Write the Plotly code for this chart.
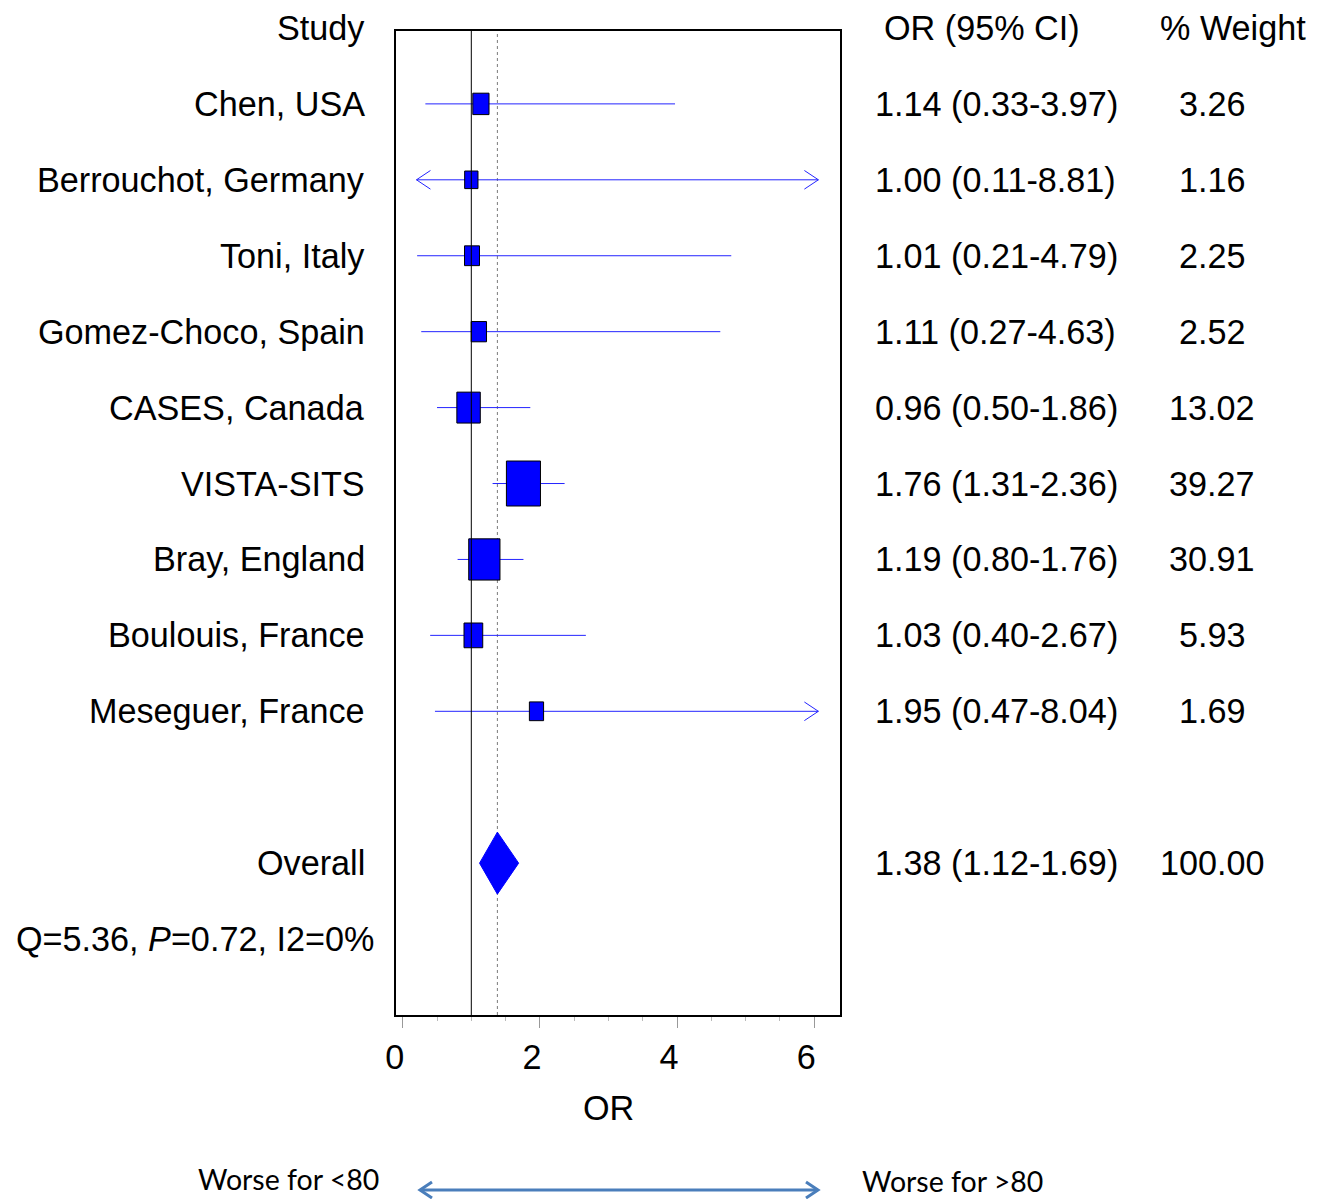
import numpy as np
import plotly.graph_objects as go

# ---------------- data ----------------
studies = ["Chen, USA", "Berrouchot, Germany", "Toni, Italy", "Gomez-Choco, Spain",
           "CASES, Canada", "VISTA-SITS", "Bray, England", "Boulouis, France",
           "Meseguer, France"]
or_vals = [1.14, 1.00, 1.01, 1.11, 0.96, 1.76, 1.19, 1.03, 1.95]
ci_lo = [0.33, 0.11, 0.21, 0.27, 0.50, 1.31, 0.80, 0.40, 0.47]
ci_hi = [3.97, 8.81, 4.79, 4.63, 1.86, 2.36, 1.76, 2.67, 8.04]
weights = [3.26, 1.16, 2.25, 2.52, 13.02, 39.27, 30.91, 5.93, 1.69]
overall_or, overall_lo, overall_hi, overall_w = 1.38, 1.12, 1.69, 100.00
het_text = "Q=5.36, <i>P</i>=0.72, I2=0%"
x_ticks = [0, 2, 4, 6]

# ---------------- geometry ----------------
OFF = 8                      # page body margin
W, H = 1320 - OFF, 1199 - OFF
def X(px):
    return (px - OFF) / W
def Y(py):
    return 1 - (py - OFF) / H

PX_L, PX_R, PX_T, PX_B = 396, 840, 31, 1015
XR = [-0.098, 6.375]
YR = [13.0, 0.04]
CLIP_LO, CLIP_HI = 0.2, 6.06
ppx = (PX_R - PX_L) / (XR[1] - XR[0])      # px per x unit
ppy = (PX_B - PX_T) / (YR[0] - YR[1])      # px per y unit

FONT = "Liberation Sans, Arial, sans-serif"
FS = 34.2
BLUE = "#0000ff"
LINEBLUE = "#2424ff"

rows = [i + 1 for i in range(len(studies))]
y_overall = len(studies) + 2
y_het = len(studies) + 3

fig = go.Figure()
shapes = []
annotations = []

# dotted line at overall OR (below)
shapes.append(dict(type="line", xref="x", yref="y", x0=overall_or, x1=overall_or,
                   y0=YR[0], y1=YR[1], line=dict(color="#7a7a7a", width=1, dash="dot"),
                   layer="below"))

# CI lines with arrows when clipped
for y, o, lo, hi in zip(rows, or_vals, ci_lo, ci_hi):
    x0 = max(lo, CLIP_LO)
    x1 = min(hi, CLIP_HI)
    fig.add_trace(go.Scatter(x=[x0, x1], y=[y, y], mode="lines",
                             line=dict(color=LINEBLUE, width=1), hoverinfo="skip",
                             showlegend=False))
    dx = 14 / ppx
    dy = 9.3 / ppy
    if hi > CLIP_HI:
        fig.add_trace(go.Scatter(x=[x1 - dx, x1, x1 - dx], y=[y - dy, y, y + dy],
                                 mode="lines", line=dict(color=LINEBLUE, width=1),
                                 hoverinfo="skip", showlegend=False))
    if lo < CLIP_LO:
        fig.add_trace(go.Scatter(x=[x0 + dx, x0, x0 + dx], y=[y - dy, y, y + dy],
                                 mode="lines", line=dict(color=LINEBLUE, width=1),
                                 hoverinfo="skip", showlegend=False))

# diamond for overall
dh = 31 / ppy
fig.add_trace(go.Scatter(x=[overall_lo, overall_or, overall_hi, overall_or, overall_lo],
                         y=[y_overall, y_overall - dh, y_overall, y_overall + dh, y_overall],
                         mode="lines", fill="toself", fillcolor=BLUE,
                         line=dict(color=BLUE, width=1), hoverinfo="skip", showlegend=False))

# weight boxes
for y, o, w in zip(rows, or_vals, weights):
    wpx = 9.0 + 4.0 * np.sqrt(w)
    hpx = wpx * 1.32
    shapes.append(dict(type="rect", xref="x", yref="y",
                       x0=o - wpx / 2 / ppx, x1=o + wpx / 2 / ppx,
                       y0=y - hpx / 2 / ppy, y1=y + hpx / 2 / ppy,
                       fillcolor=BLUE, line=dict(color="black", width=1), layer="above"))

# solid line at OR = 1 (above boxes)
shapes.append(dict(type="line", xref="x", yref="y", x0=1, x1=1, y0=YR[0], y1=YR[1],
                   line=dict(color="black", width=1), layer="above"))

# ---------------- texts ----------------
def ann(text, x, y, xanchor, yref="y", size=FS, font=FONT, color="black"):
    annotations.append(dict(text=text, x=x, y=y, xref="paper", yref=yref,
                            xanchor=xanchor, yanchor="middle", showarrow=False,
                            font=dict(family=font, size=size, color=color)))

LAB_X = X(367)
CI_X = X(873)
WT_X = X(1212)

ann("Study", LAB_X, Y(28), "right", yref="paper")
ann("OR (95% CI)", X(882), Y(28), "left", yref="paper")
ann("% Weight", X(1233), Y(28), "center", yref="paper")

for y, s, o, lo, hi, w in zip(rows, studies, or_vals, ci_lo, ci_hi, weights):
    ann(s, LAB_X, y, "right")
    ann(f"{o:.2f} ({lo:.2f}-{hi:.2f})", CI_X, y, "left")
    ann(f"{w:.2f}", WT_X, y, "center")

ann("Overall", LAB_X, y_overall, "right")
ann(f"{overall_or:.2f} ({overall_lo:.2f}-{overall_hi:.2f})", CI_X, y_overall, "left")
ann(f"{overall_w:.2f}", WT_X, y_overall, "center")
ann(het_text, X(14), y_het, "left")

# axis title
ann("OR", X(608), Y(1108), "center", yref="paper")

# bottom direction labels and arrow
ann("Worse for <80", X(288), Y(1179), "center", yref="paper", size=28.5, font="Lato, sans-serif")
ann("Worse for >80", X(952), Y(1181), "center", yref="paper", size=28.5, font="Lato, sans-serif")
AY = Y(1190)
AC = "#4a7ebb"
ax0, ax1 = X(420), X(818)
cdx, cdy = 12 / W, 8 / H
shapes.append(dict(type="line", xref="paper", yref="paper", x0=ax0, x1=ax1, y0=AY, y1=AY,
                   line=dict(color=AC, width=3)))
shapes.append(dict(type="path", xref="paper", yref="paper",
                   path=f"M {ax0+cdx} {AY+cdy} L {ax0} {AY} L {ax0+cdx} {AY-cdy}",
                   line=dict(color=AC, width=3)))
shapes.append(dict(type="path", xref="paper", yref="paper",
                   path=f"M {ax1-cdx} {AY+cdy} L {ax1} {AY} L {ax1-cdx} {AY-cdy}",
                   line=dict(color=AC, width=3)))

fig.update_layout(
    width=W, height=H,
    margin=dict(l=0, r=0, t=0, b=0),
    paper_bgcolor="white", plot_bgcolor="white",
    shapes=shapes, annotations=annotations,
    showlegend=False,
    xaxis=dict(domain=[X(PX_L), X(PX_R)], range=XR, tickvals=x_ticks,
               ticktext=[str(t) for t in x_ticks], ticks="outside", ticklen=11,
               tickcolor="#999999", tickwidth=1, showgrid=False, zeroline=False,
               showline=True, mirror=True, linecolor="black", linewidth=1.5,
               tickfont=dict(family=FONT, size=FS, color="black"),
               ticklabelshift=-8, ticklabelstandoff=0,
               minor=dict(dtick=0.5, ticks="outside", ticklen=4, tickcolor="#bbbbbb"),
               automargin=False, fixedrange=True),
    yaxis=dict(domain=[Y(PX_B), Y(PX_T)], range=YR, showticklabels=False,
               ticks="", showgrid=False, zeroline=False, showline=True, mirror=True,
               linecolor="black", linewidth=1.5, automargin=False, fixedrange=True),
)

fig.write_html("out.html")
